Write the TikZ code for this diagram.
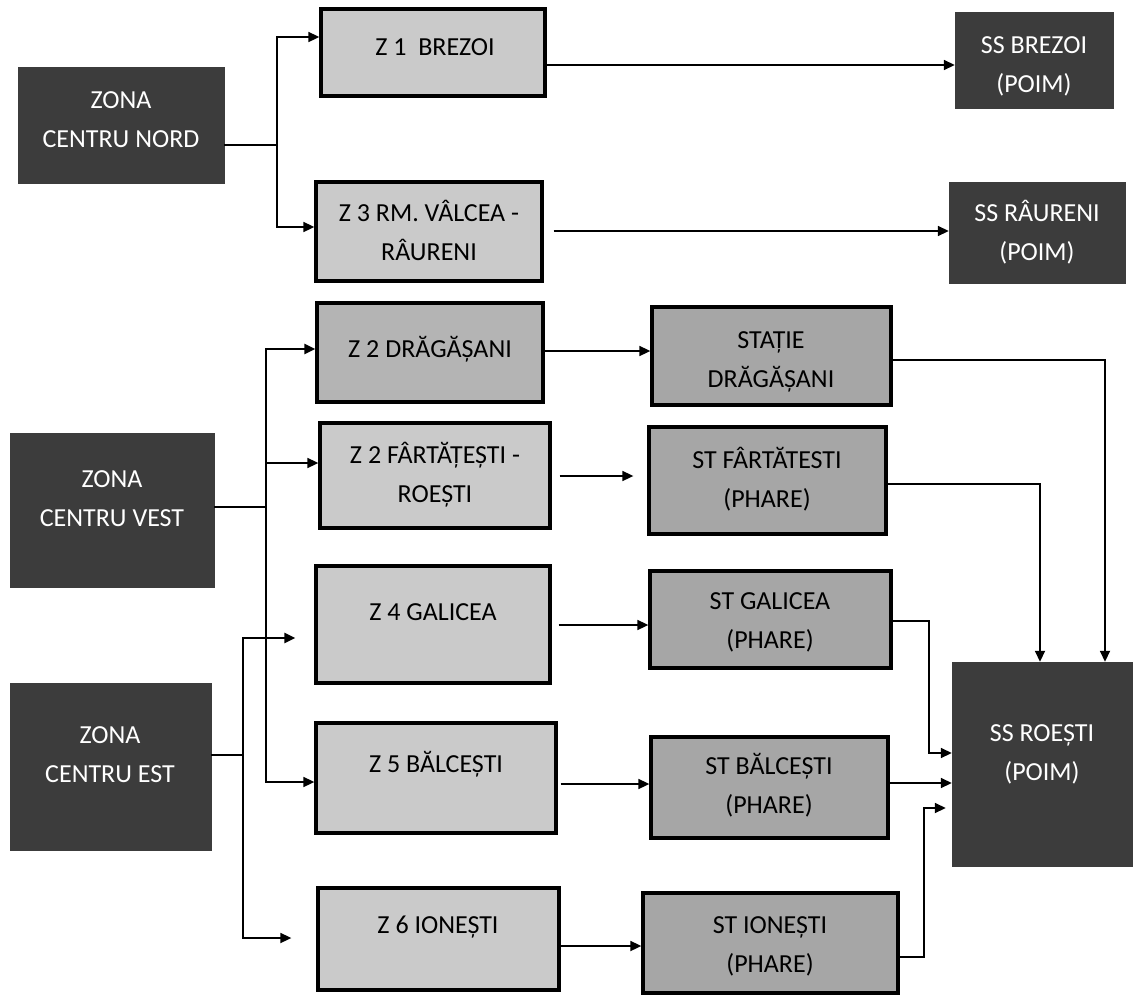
\documentclass[tikz,border=0pt]{standalone}
\usepackage{fontspec}
\setmainfont{Carlito}
\usetikzlibrary{arrows.meta}
\definecolor{darkfill}{HTML}{3C3C3C}
\definecolor{zfill}{HTML}{CACACA}
\definecolor{zdfill}{HTML}{B4B4B4}
\definecolor{stfill}{HTML}{A6A6A6}
\tikzset{
  darkbox/.style={draw=darkfill, fill=darkfill, inner sep=0pt},
  zbox/.style={draw=black, line width=3.3pt, fill=zfill, inner sep=0pt},
  stbox/.style={draw=black, line width=3.3pt, fill=stfill, inner sep=0pt},
  lbl/.style={anchor=base, inner sep=0pt, font=\fontsize{26}{39}\selectfont},
  wlbl/.style={lbl, text=white},
  conn/.style={line width=1.7pt, -{Triangle[length=11pt,width=10pt]}},
  thickconn/.style={conn, line width=2.7pt},
}
\newcommand{\twol}[2]{\begin{tabular}[b]{@{}c@{}}#1\\#2\end{tabular}}
\begin{document}
\begin{tikzpicture}[x=1pt,y=-1pt]
\useasboundingbox (0,0) rectangle (1136,996);
% dark boxes
\node[darkbox, minimum width=206pt, minimum height=116pt] (zn) at (121,125) {};
\node[darkbox, minimum width=204pt, minimum height=154pt] (zv) at (112,510) {};
\node[darkbox, minimum width=201pt, minimum height=167pt] (ze) at (110.5,766.5) {};
\node[darkbox, minimum width=158pt, minimum height=96pt] (ssb) at (1034,60) {};
\node[darkbox, minimum width=176pt, minimum height=101pt] (ssr) at (1037,232.5) {};
\node[darkbox, minimum width=180pt, minimum height=204pt] (ssro) at (1042,764) {};
% Z boxes
\node[zbox, minimum width=224pt, minimum height=87pt] (z1) at (433,52.5) {};
\node[zbox, minimum width=226pt, minimum height=99pt] (z3) at (429,231.5) {};
\node[zbox, fill=zdfill, minimum width=226pt, minimum height=99pt] (z2d) at (430,352.5) {};
\node[zbox, minimum width=230pt, minimum height=105pt] (z2f) at (435,475.5) {};
\node[zbox, minimum width=234pt, minimum height=117pt] (z4) at (433,624.5) {};
\node[zbox, minimum width=240pt, minimum height=110pt] (z5) at (436,778) {};
\node[zbox, minimum width=241pt, minimum height=102pt] (z6) at (438.5,939) {};
% ST boxes
\node[stbox, minimum width=239pt, minimum height=98pt] (std) at (771.5,356) {};
\node[stbox, minimum width=237pt, minimum height=107pt] (stf) at (767.5,480.5) {};
\node[stbox, minimum width=241pt, minimum height=97pt] (stg) at (770.5,619.5) {};
\node[stbox, minimum width=237pt, minimum height=101pt] (stb) at (769.5,787.5) {};
\node[stbox, minimum width=255pt, minimum height=100pt] (sti) at (770.5,943) {};
% labels
\node[wlbl] (tzn) at (121,147) {\twol{ZONA}{CENTRU NORD}};
\node[wlbl] (tzv) at (112,526) {\twol{ZONA}{CENTRU VEST}};
\node[wlbl] (tze) at (110,782) {\twol{ZONA}{CENTRU EST}};
\node[wlbl] (tssb) at (1034,92) {\twol{SS BREZOI}{(POIM)}};
\node[wlbl] (tssr) at (1037,260) {\twol{SS RÂURENI}{(POIM)}};
\node[wlbl] (tssro) at (1042,780) {\twol{SS ROEȘTI}{(POIM)}};
\node[lbl] (tz1) at (435,55) {Z 1 \ BREZOI};
\node[lbl] (tz3) at (429,260) {\twol{Z 3 RM. VÂLCEA -}{RÂURENI}};
\node[lbl] (tz2d) at (430,357) {Z 2 DRĂGĂȘANI};
\node[lbl] (tz2f) at (435,502) {\twol{Z 2 FÂRTĂȚEȘTI -}{ROEȘTI}};
\node[lbl] (tz4) at (433,620) {Z 4 GALICEA};
\node[lbl] (tz5) at (436,772) {Z 5 BĂLCEȘTI};
\node[lbl] (tz6) at (438,933) {Z 6 IONEȘTI};
\node[lbl] (tstd) at (771,387) {\twol{STAȚIE}{DRĂGĂȘANI}};
\node[lbl] (tstf) at (767,507) {\twol{ST FÂRTĂTESTI}{(PHARE)}};
\node[lbl] (tstg) at (770,648) {\twol{ST GALICEA}{(PHARE)}};
\node[lbl] (tstb) at (769,813) {\twol{ST BĂLCEȘTI}{(PHARE)}};
\node[lbl] (tsti) at (770,972) {\twol{ST IONEȘTI}{(PHARE)}};
% connectors: zona nord
\draw[conn] (zn.east |- 0,145) -- (277,145) |- (z1.west |- 0,37);
\draw[conn] (277,145) |- (z3.west |- 0,227);
\draw[conn] (z1.east |- 0,65) -- (ssb.west |- 0,65);
\draw[conn] ([xshift=10pt]z3.east |- 0,231) -- (ssr.west |- 0,231);
% zona vest
\draw[thickconn] (zv.east |- 0,507) -- (266,507) |- (z2d.west |- 0,349);
\draw[conn] (266,507) |- (z2f.west |- 0,463);
\draw[conn] (266,507) |- (z5.west |- 0,782);
% zona est
\draw[thickconn] (ze.east |- 0,755) -- (243,755) |- ([xshift=-19pt]z4.west |- 0,638);
\draw[conn] (243,755) |- ([xshift=-25pt]z6.west |- 0,938);
% Z -> ST
\draw[conn] (z2d.east |- 0,351) -- (std.west |- 0,351);
\draw[conn] ([xshift=8pt]z2f.east |- 0,476) -- ([xshift=-14pt]stf.west |- 0,476);
\draw[conn] ([xshift=7pt]z4.east |- 0,625) -- (stg.west |- 0,625);
\draw[conn] ([xshift=3pt]z5.east |- 0,784) -- (stb.west |- 0,784);
\draw[conn] (z6.east |- 0,946) -- (sti.west |- 0,946);
% ST -> SS Roesti
\draw[conn] (std.east |- 0,360) -| (ssro.north -| 1105,0);
\draw[conn] (stf.east |- 0,484) -| (ssro.north -| 1040,0);
\draw[conn] (stg.east |- 0,621) -- (929,621) |- (ssro.west |- 0,753);
\draw[conn] (stb.east |- 0,783) -- (ssro.west |- 0,783);
\draw[conn] (sti.east |- 0,957) -- (924,957) |- ([xshift=-6pt]ssro.west |- 0,808);
\end{tikzpicture}
\end{document}
